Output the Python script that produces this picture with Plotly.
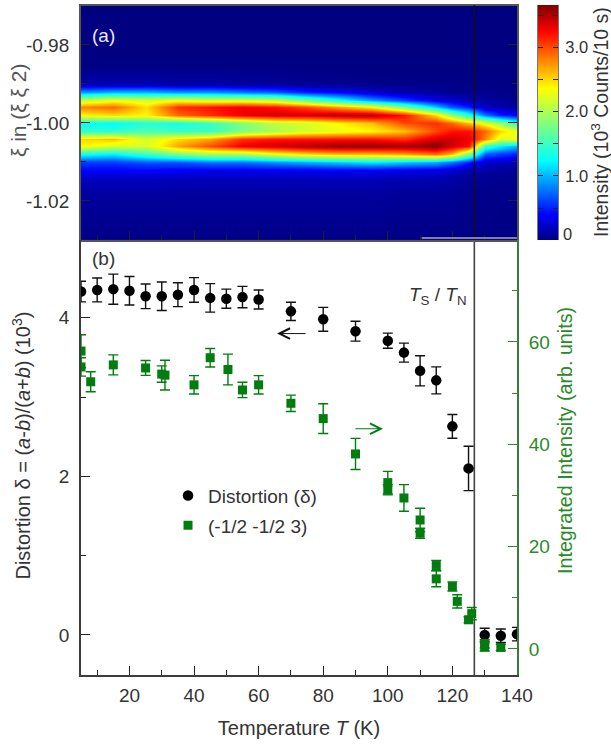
import plotly.graph_objects as go

# ---- panel (a) : intensity map ----
map_T = [5, 15, 25, 35, 45, 55, 65, 75, 85, 95, 105, 115, 120, 125, 130, 135, 140]
map_xi = [-1.03, -1.018, -1.014, -1.012, -1.010, -1.008, -1.006, -1.004, -1.002, -1.000,
          -0.998, -0.996, -0.994, -0.992, -0.990, -0.985, -0.97]
# one row per temperature, listed from xi=-1.03 up to xi=-0.97
map_by_T = [
    [0.02, 0.10, 0.22, 0.40, 0.6, 1.3, 2.4, 2.5, 1.45, 1.3, 2.4, 2.8, 2.1, 0.9, 0.15, 0.01, 0],
    [0.02, 0.10, 0.22, 0.40, 0.6, 1.2, 2.2, 2.6, 1.45, 1.25, 2.5, 2.9, 2.3, 1.0, 0.15, 0.01, 0],
    [0.02, 0.10, 0.22, 0.40, 0.7, 1.5, 2.2, 2.2, 1.6, 1.4, 2.4, 2.5, 2.2, 1.0, 0.15, 0.01, 0],
    [0.02, 0.10, 0.20, 0.38, 0.7, 1.8, 2.7, 2.5, 1.5, 1.35, 2.9, 3.1, 2.3, 0.9, 0.12, 0.01, 0],
    [0.02, 0.10, 0.20, 0.36, 0.8, 2.0, 3.0, 2.7, 1.5, 1.5, 3.1, 3.2, 2.2, 0.9, 0.12, 0.01, 0],
    [0.02, 0.10, 0.20, 0.36, 0.8, 2.0, 3.3, 3.1, 1.8, 1.8, 3.3, 3.3, 2.2, 0.8, 0.10, 0.01, 0],
    [0.02, 0.10, 0.20, 0.36, 0.9, 2.3, 3.4, 3.2, 2.0, 2.1, 3.4, 3.2, 2.1, 0.7, 0.08, 0.01, 0],
    [0.02, 0.10, 0.20, 0.36, 1.0, 2.5, 3.5, 3.2, 2.2, 2.2, 3.4, 3.0, 1.7, 0.5, 0.06, 0.01, 0],
    [0.02, 0.10, 0.20, 0.38, 1.1, 2.6, 3.6, 3.2, 2.3, 2.4, 3.5, 2.7, 1.3, 0.4, 0.05, 0.01, 0],
    [0.02, 0.10, 0.20, 0.38, 1.2, 2.6, 3.6, 3.2, 2.4, 2.6, 3.5, 2.4, 0.9, 0.25, 0.04, 0.01, 0],
    [0.02, 0.08, 0.18, 0.34, 1.1, 2.7, 3.55, 3.1, 2.6, 3.0, 3.2, 1.8, 0.6, 0.15, 0.03, 0.01, 0],
    [0.02, 0.08, 0.16, 0.32, 1.0, 2.9, 3.65, 3.4, 3.0, 3.1, 2.5, 1.1, 0.3, 0.10, 0.03, 0.01, 0],
    [0.02, 0.07, 0.13, 0.25, 0.8, 2.6, 3.4, 3.4, 3.2, 2.9, 1.9, 0.7, 0.25, 0.05, 0.02, 0.01, 0],
    [0.02, 0.05, 0.09, 0.16, 0.5, 1.8, 3.2, 3.3, 3.2, 2.6, 1.4, 0.5, 0.15, 0.05, 0.02, 0.01, 0],
    [0.02, 0.04, 0.07, 0.12, 0.25, 0.7, 1.5, 2.8, 2.9, 2.3, 0.8, 0.2, 0.10, 0.05, 0.02, 0.01, 0],
    [0.02, 0.03, 0.05, 0.08, 0.2, 0.6, 1.2, 2.2, 2.5, 1.9, 0.5, 0.15, 0.08, 0.03, 0.02, 0.01, 0],
    [0.02, 0.03, 0.05, 0.08, 0.2, 0.5, 1.0, 2.3, 2.3, 1.4, 0.4, 0.10, 0.05, 0.03, 0.02, 0.01, 0],
]
map_z = [list(row) for row in zip(*map_by_T)]

scale_levels = [0, 0.25, 0.5, 0.75, 1.0, 1.25, 1.5, 1.75, 2.0, 2.25, 2.5, 2.75, 3.0, 3.25, 3.5, 3.66]

# ---- panel (b) : distortion ----
delta_T = [5, 10, 15, 20, 25, 30, 35, 40, 45, 50, 55, 60, 70, 80, 90, 100, 105, 110, 115, 120, 125, 130, 135, 140]
delta = [4.33, 4.35, 4.36, 4.34, 4.27, 4.27, 4.29, 4.35, 4.25, 4.24, 4.26, 4.23, 4.08, 3.98, 3.83, 3.71, 3.56,
         3.33, 3.21, 2.63, 2.10, 0.0, -0.01, 0.01]
delta_err = [0.13, 0.15, 0.19, 0.18, 0.155, 0.18, 0.15, 0.155, 0.18, 0.12, 0.135, 0.12, 0.115, 0.15, 0.125, 0.095,
             0.12, 0.19, 0.17, 0.15, 0.28, 0.085, 0.085, 0.085]

# ---- panel (b) : integrated intensity of (-1/2 -1/2 3) ----
peak_T = [5, 5, 8, 15, 25, 30, 31, 40, 45, 50.5, 55, 60, 70, 80, 90, 100, 100, 105, 110, 110, 115, 115, 120, 121.5,
          125, 126, 130, 130, 135]
peak = [58.2, 55.1, 52.2, 55.5, 54.9, 53.7, 53.5, 51.6, 56.9, 54.6, 50.6, 51.6, 48.0, 45.0, 38.1, 32.5, 31.1, 29.5,
        25.2, 22.6, 16.3, 13.7, 12.2, 9.3, 5.7, 6.9, 1.0, 0.4, 0.3]
peak_err = [3.2, 1.8, 1.95, 1.95, 1.45, 1.6, 2.9, 1.8, 1.8, 3.0, 1.5, 1.8, 1.6, 2.9, 3.05, 2.2, 1.0, 2.6, 2.3, 1.0,
            1.0, 1.55, 0.9, 1.3, 0.6, 1.2, 0.8, 0.8, 0.6]

transition_T = 126.8

JET = [[0, "#00007f"], [0.11, "#0000ff"], [0.34, "#00ffff"], [0.65, "#ffff00"], [0.89, "#ff0000"], [1, "#7f0000"]]
TXT = "#333333"
AXC = "#3c3c3c"
GREEN = "#007d0e"
GTXT = "#2a8a2a"
FONT = "Liberation Sans"

fig = go.Figure()
fig.add_trace(go.Heatmap(x=map_T, y=map_xi, z=map_z, colorscale=JET, zmin=0, zmax=3.66, zsmooth="best",
                         showscale=False, xaxis="x", yaxis="y", showlegend=False))
fig.add_trace(go.Heatmap(x=[0, 1], y=scale_levels, z=[[v, v] for v in scale_levels], colorscale=JET, zmin=0,
                         zmax=3.66, zsmooth="best", showscale=False, xaxis="x3", yaxis="y4", showlegend=False))
fig.add_trace(go.Scatter(x=delta_T, y=delta, mode="markers", name="Distortion (δ)", xaxis="x2", yaxis="y2",
                         marker=dict(symbol="circle", size=10.5, color="#000000"), legendgroup="a",
                         error_y=dict(type="data", array=delta_err, color="#111111", thickness=1.4, width=5)))
fig.add_trace(go.Scatter(x=peak_T, y=peak, mode="markers", name="(-1/2 -1/2 3)", xaxis="x2", yaxis="y3",
                         marker=dict(symbol="square", size=9, color=GREEN), legendgroup="b",
                         error_y=dict(type="data", array=peak_err, color=GREEN, thickness=1.4, width=5)))

FS = 19
tick_font = dict(family=FONT, size=FS, color=TXT)
fig.update_layout(
    width=611, height=746, margin=dict(l=0, r=0, t=0, b=0), paper_bgcolor="white", plot_bgcolor="white",
    font=tick_font,
    legend=dict(x=0.275, y=0.361, xanchor="left", yanchor="top", traceorder="grouped", tracegroupgap=2,
                bgcolor="rgba(0,0,0,0)", font=dict(family=FONT, size=FS, color=TXT), itemwidth=30),
    xaxis=dict(domain=[0.1326, 0.8461], range=[5, 140], anchor="y", showticklabels=False, ticks="inside", ticklen=9,
               tickcolor="#222222", tickvals=[20, 40, 60, 80, 100, 120, 140],
               minor=dict(tickvals=[10, 30, 50, 70, 90, 110, 130], ticks="inside", ticklen=4.5, tickcolor="#222222"),
               showline=True, linecolor="#555555", linewidth=2, mirror=True, showgrid=False, zeroline=False, automargin=False),
    yaxis=dict(domain=[0.6783, 0.992], range=[-1.03, -0.97], anchor="x", tickvals=[-1.02, -1.0, -0.98],
               ticktext=["-1.02", "-1.00", "-0.98"], ticks="inside", ticklen=9, tickcolor="#222222",
               minor=dict(tickvals=[-1.01, -0.99], ticks="inside", ticklen=4.5, tickcolor="#222222"),
               showline=True, linecolor="#555555", linewidth=2, mirror="ticks", showgrid=False, zeroline=False,
               ticklabelstandoff=6, automargin=False),
    xaxis2=dict(domain=[0.1326, 0.8461], range=[5, 140], anchor="y2", tickvals=[20, 40, 60, 80, 100, 120, 140],
                ticks="inside", ticklen=9, tickcolor="#222222",
                minor=dict(tickvals=[10, 30, 50, 70, 90, 110, 130], ticks="inside", ticklen=4.5, tickcolor="#222222"),
                showline=True, linecolor=AXC, linewidth=2, showgrid=False, zeroline=False, ticklabelstandoff=2,
                automargin=False,
                title=dict(text="Temperature <i>T</i> (K)", standoff=16, font=dict(family=FONT, size=20, color=TXT))),
    yaxis2=dict(domain=[0.0952, 0.6783], range=[-0.505, 4.98], anchor="x2", tickvals=[0, 2, 4], ticks="inside",
                ticklen=9, tickcolor="#222222",
                minor=dict(tickvals=[1, 3], ticks="inside", ticklen=4.5, tickcolor="#222222"),
                showline=True, linecolor=AXC, linewidth=2, showgrid=False, zeroline=False, ticklabelstandoff=6,
                automargin=False),
    yaxis3=dict(domain=[0.0952, 0.6783], range=[-5.08, 79.9], anchor="x2", overlaying="y2", side="right",
                tickvals=[0, 20, 40, 60], ticks="inside", ticklen=9, tickcolor="#3a7d3a",
                tickfont=dict(family=FONT, size=FS, color=GTXT),
                minor=dict(tickvals=[10, 30, 50, 70], ticks="inside", ticklen=4.5, tickcolor="#3a7d3a"),
                showline=True, linecolor="#3a7d3a", linewidth=2, showgrid=False, zeroline=False, ticklabelstandoff=6,
                automargin=False),
    xaxis3=dict(domain=[0.8805, 0.9133], range=[0, 1], anchor="y4", visible=False, automargin=False),
    yaxis4=dict(domain=[0.678, 0.9933], range=[0, 3.66], anchor="x3", side="right", tickvals=[1, 2, 3],
                ticktext=["1.0", "2.0", "3.0"], ticks="inside", ticklen=5, tickcolor="#222222",
                minor=dict(tickvals=[0.5, 1.5, 2.5, 3.5], ticks="inside", ticklen=5, tickcolor="#222222"),
                mirror="ticks", showline=True, linecolor="#777777", linewidth=1, showgrid=False, zeroline=False,
                tickfont=dict(family=FONT, size=16.5, color=TXT), ticklabelstandoff=3, automargin=False),
    shapes=[
        dict(type="line", xref="x", yref="paper", x0=transition_T, x1=transition_T, y0=0.6783, y1=0.993,
             line=dict(color="#111111", width=1.5), layer="above"),
        dict(type="line", xref="x2", yref="paper", x0=transition_T, x1=transition_T, y0=0.0952, y1=0.6783,
             line=dict(color="#444444", width=1.6), layer="below"),
        dict(type="line", xref="x", yref="paper", x0=110.5, x1=140, y0=0.681, y1=0.681,
             line=dict(color="#8080a0", width=2), layer="above"),
    ],
    annotations=[
        dict(text="(a)", x=0.0, y=0.0, xref="paper", yref="paper", showarrow=False,
             font=dict(family=FONT, size=FS, color="#e8e8ff"), xanchor="left", yanchor="middle",
             xshift=90, yshift=711),
        dict(text="(b)", x=0.0, y=0.0, xref="paper", yref="paper", showarrow=False,
             font=dict(family=FONT, size=FS, color=TXT), xanchor="left", yanchor="middle",
             xshift=90, yshift=488),
        dict(text="0", x=1.0, xref="x3", y=0.09, yref="y4", showarrow=False, xanchor="left", xshift=3,
             font=dict(family=FONT, size=16.5, color=TXT)),
        dict(text="<i>T</i><sub>S</sub> / <i>T</i><sub>N</sub>", x=125.3, xref="x2", y=4.27, yref="y2", showarrow=False,
             xanchor="right", font=dict(family=FONT, size=FS, color=TXT)),
        dict(text="", x=65.7, y=3.80, xref="x2", yref="y2", ax=75, ay=3.80, axref="x2", ayref="y2", showarrow=True,
             arrowhead=5, arrowsize=2.1, arrowwidth=1.0, arrowcolor="#111111"),
        dict(text="", x=98.5, y=2.6, xref="x2", yref="y2", ax=89.5, ay=2.6, axref="x2", ayref="y2", showarrow=True,
             arrowhead=5, arrowsize=2.1, arrowwidth=1.0, arrowcolor=GREEN),
        dict(text="ξ in (ξ ξ 2)", x=0.0295, y=0.8525, xref="paper", yref="paper", showarrow=False, textangle=-90,
             xanchor="center", yanchor="middle", font=dict(family=FONT, size=21, color="#555555")),
        dict(text="Distortion δ = (<i>a</i>-<i>b</i>)/(<i>a</i>+<i>b</i>) (10<sup>3</sup>)", x=0.0344, y=0.4028,
             xref="paper", yref="paper", showarrow=False, textangle=-90, xanchor="center", yanchor="middle",
             font=dict(family=FONT, size=20, color=TXT)),
        dict(text="Integrated Intensity (arb. units)", x=0.9247, y=0.4102, xref="paper", yref="paper", showarrow=False,
             textangle=-90, xanchor="center", yanchor="middle", font=dict(family=FONT, size=19.7, color=GTXT)),
        dict(text="Intensity (10<sup>3</sup> Counts/10 s)", x=0.982, y=0.8365, xref="paper", yref="paper",
             showarrow=False, textangle=-90, xanchor="center", yanchor="middle",
             font=dict(family=FONT, size=19.5, color=TXT)),
    ],
)

fig.write_html("out.html", config={"displayModeBar": False}, post_script="document.body.style.margin='0';")
